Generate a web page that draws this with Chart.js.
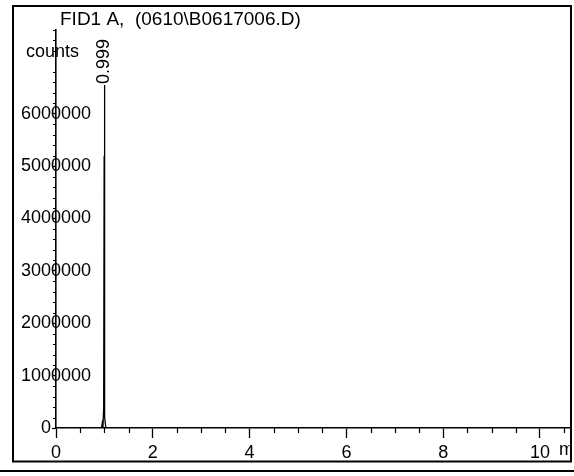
<!DOCTYPE html>
<html>
<head>
<meta charset="utf-8">
<script src="https://cdn.jsdelivr.net/npm/chart.js@4/dist/chart.umd.min.js"></script>
<style>
  html, body { margin: 0; padding: 0; background: #fff; }
  #wrap { width: 574px; height: 476px; }
</style>
</head>
<body>
<div id="wrap"><canvas id="chart" width="574" height="476"></canvas></div>
<script>
// signal trace (min / counts)
const retentionTimes = [0, 0.90, 0.94, 0.955, 0.97, 0.985, 0.995, 0.999, 1.003, 1.012, 1.03, 10.62];
const counts = [0, 0, 0, 90000, 10000, 400000, 5200000, 6550000, 4000000, 200000, 0, 0];

const xTickValues = [0, 2, 4, 6, 8, 10];
const yTickValues = [0, 1000000, 2000000, 3000000, 4000000, 5000000, 6000000];

const peakTimes = [0.999];
const peakHeights = [6550000];
const peakLabels = ['0.999'];

const chartTitle = 'FID1 A,  (0610\\B0617006.D)';
const yUnit = 'counts';
const xUnit = 'min';

const FONT = "'Liberation Sans', Arial, sans-serif";

const decor = {
    id: 'decor',
    afterDraw(chart) {
        const ctx = chart.ctx;
        const x = chart.scales.x;
        const y = chart.scales.y;
        const area = chart.chartArea;
        ctx.save();
        ctx.strokeStyle = '#000';
        ctx.fillStyle = '#000';

        // minor ticks
        ctx.lineWidth = 1.2;
        ctx.beginPath();
        for (let v = 0.5; v <= x.max; v += 0.5) {
            if (v % 2 === 0) continue;
            const px = Math.round(x.getPixelForValue(v)) + 0.5;
            ctx.moveTo(px, area.bottom);
            ctx.lineTo(px, area.bottom + 5);
        }
        for (let v = 200000; v <= y.max; v += 200000) {
            if (v % 1000000 === 0) continue;
            const py = Math.round(y.getPixelForValue(v)) + 0.5;
            ctx.moveTo(area.left - 3, py);
            ctx.lineTo(area.left, py);
        }
        ctx.stroke();

        // texts
        ctx.font = '19px ' + FONT;
        ctx.textAlign = 'left';
        ctx.textBaseline = 'middle';
        ctx.fillText(chartTitle, 60, 20);
        ctx.font = '18px ' + FONT;
        ctx.fillText(yUnit, 26, 52);

        // peak labels
        peakTimes.forEach((t, i) => {
            const px = x.getPixelForValue(t);
            const py = y.getPixelForValue(peakHeights[i]);
            ctx.save();
            ctx.translate(px, py - 1);
            ctx.rotate(-Math.PI / 2);
            ctx.textAlign = 'left';
            ctx.textBaseline = 'middle';
            ctx.fillText(peakLabels[i], 0, 0);
            ctx.restore();
        });

        // unit at end of time axis, cut by the frame
        ctx.save();
        ctx.beginPath();
        ctx.rect(0, 0, 570, 476);
        ctx.clip();
        ctx.textBaseline = 'middle';
        ctx.fillText(xUnit, 559, 450);
        ctx.restore();

        // frame
        ctx.lineWidth = 2;
        ctx.beginPath();
        ctx.moveTo(13, 6);
        ctx.lineTo(571, 6);
        ctx.lineTo(571, 461.5);
        ctx.lineTo(13, 461.5);
        ctx.closePath();
        ctx.stroke();
        ctx.beginPath();
        ctx.moveTo(0, 471);
        ctx.lineTo(574, 471);
        ctx.stroke();
        ctx.restore();
    }
};

new Chart(document.getElementById('chart'), {
    type: 'line',
    data: {
        datasets: [{
            data: retentionTimes.map((t, i) => ({ x: t, y: counts[i] })),
            borderColor: '#000',
            borderWidth: 1.3,
            pointRadius: 0,
            tension: 0,
            fill: false
        }]
    },
    options: {
        responsive: false,
        devicePixelRatio: 1,
        animation: false,
        layout: { padding: { top: 30, right: 4, left: 0, bottom: 0 } },
        plugins: {
            legend: { display: false },
            tooltip: { enabled: false },
            title: { display: false }
        },
        scales: {
            x: {
                type: 'linear',
                min: 0,
                max: 10.62,
                afterBuildTicks: (scale) => { scale.ticks = xTickValues.map(v => ({ value: v })); },
                afterFit: (scale) => { scale.height = 48; },
                grid: { drawOnChartArea: false, tickLength: 10, color: '#000', tickWidth: 1.3 },
                border: { display: true, color: '#000', width: 1.6 },
                ticks: {
                    autoSkip: false,
                    maxRotation: 0,
                    padding: 4,
                    color: '#000',
                    font: { family: FONT, size: 18 }
                }
            },
            y: {
                type: 'linear',
                min: 0,
                max: 7600000,
                afterBuildTicks: (scale) => { scale.ticks = yTickValues.map(v => ({ value: v })); },
                afterFit: (scale) => { scale.width = 56; },
                grid: { drawOnChartArea: false, tickLength: 4, color: '#000', tickWidth: 1.3 },
                border: { display: true, color: '#000', width: 1.6 },
                ticks: {
                    mirror: true,
                    crossAlign: 'center',
                    padding: -35,
                    color: '#000',
                    font: { family: FONT, size: 18 },
                    callback: (v) => v === 0 ? '0    ' : String(v)
                }
            }
        }
    },
    plugins: [decor]
});
</script>
</body>
</html>
